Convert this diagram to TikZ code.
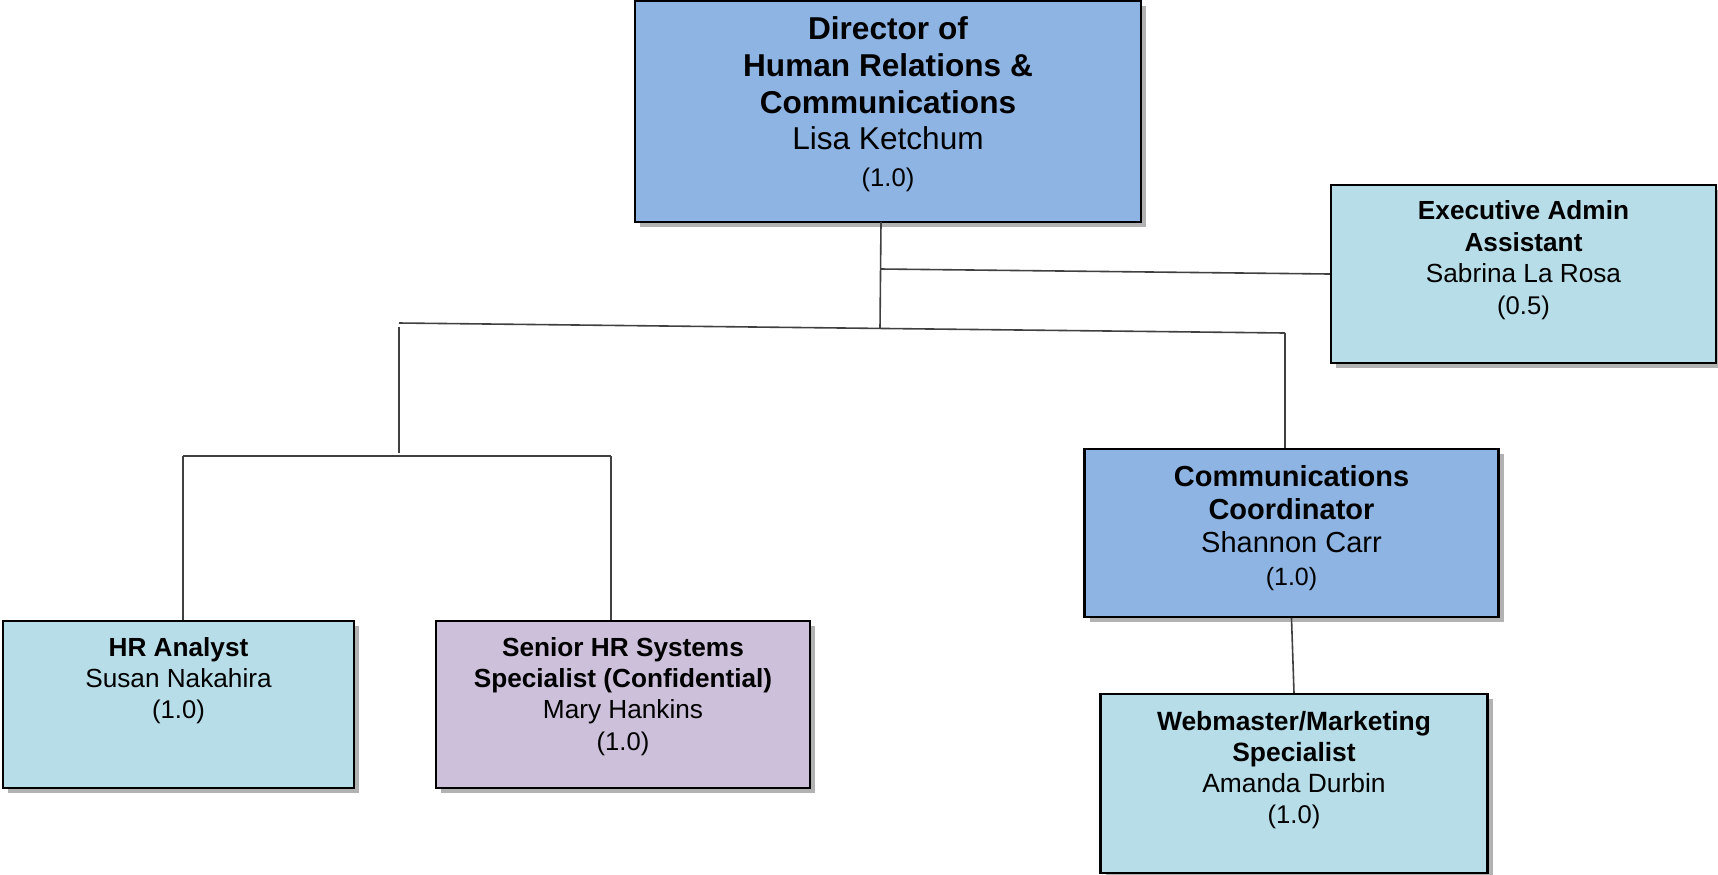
\documentclass[tikz,border=0pt]{standalone}
\usepackage{fontspec}
\setmainfont{Liberation Sans}
\usepackage{tikz}
\usetikzlibrary{calc}
\usetikzlibrary{shadows}
\usetikzlibrary{positioning}
\definecolor{midblue}{RGB}{141,180,226}
\definecolor{paleblue}{RGB}{183,221,232}
\definecolor{lilac}{RGB}{204,192,218}
\tikzset{post/.style={rectangle,draw=black,line width=1.2pt,inner sep=0pt,
    drop shadow={shadow xshift=2.5pt,shadow yshift=-2.5pt,opacity=0.3,fill=black}}}
\tikzset{who/.style={anchor=north,align=center,inner sep=0pt}}
\tikzset{wire/.style={draw=black!75,line width=0.8pt}}

\begin{document}
\begin{tikzpicture}[x=0.5pt,y=-0.5pt]
\useasboundingbox (0,0) rectangle (1718,874);

% boxes
\node[post,fill=midblue,minimum width=253pt,minimum height=110.5pt] (dir) at (888,111.5) {};
\node[post,fill=paleblue,minimum width=192.5pt,minimum height=89pt] (adm) at (1523.5,274) {};
\node[post,fill=paleblue,minimum width=175.5pt,minimum height=83.5pt] (hra) at (178.5,704.5) {};
\node[post,fill=lilac,minimum width=187pt,minimum height=83.5pt] (shr) at (623,704.5) {};
\node[post,fill=midblue,minimum width=207pt,minimum height=84pt] (cc) at (1291.5,533) {};
\node[post,fill=paleblue,minimum width=193.5pt,minimum height=89.5pt] (web) at (1294,783.5) {};

% texts
\node[who,below=8.4pt of dir.north,font=\fontsize{15.8}{18.3}\selectfont] (dirt)
  {\textbf{Director of}\\\textbf{Human Relations \&}\\\textbf{Communications}\\Lisa Ketchum\\{\fontsize{12.8}{18.3}\selectfont (1.0)}};
\node[who,below=8.4pt of adm.north,font=\fontsize{13.1}{15.7}\selectfont] (admt)
  {\textbf{Executive Admin}\\\textbf{Assistant}\\Sabrina La Rosa\\{\fontsize{12.8}{15.7}\selectfont (0.5)}};
\node[who,below=8.4pt of hra.north,font=\fontsize{13.1}{15.5}\selectfont] (hrat)
  {\textbf{HR Analyst}\\Susan Nakahira\\{\fontsize{12.8}{15.5}\selectfont (1.0)}};
\node[who,below=8.4pt of shr.north,font=\fontsize{13.1}{15.7}\selectfont] (shrt)
  {\textbf{Senior HR Systems}\\\textbf{Specialist (Confidential)}\\Mary Hankins\\{\fontsize{12.8}{15.7}\selectfont (1.0)}};
\node[who,below=8.8pt of cc.north,font=\fontsize{14.5}{16.5}\selectfont] (cct)
  {\textbf{Communications}\\\textbf{Coordinator}\\Shannon Carr\\{\fontsize{12.5}{16.5}\selectfont (1.0)}};
\node[who,below=9pt of web.north,font=\fontsize{13.2}{15.5}\selectfont] (webt)
  {\textbf{Webmaster/Marketing}\\\textbf{Specialist}\\Amanda Durbin\\{\fontsize{12.8}{15.5}\selectfont (1.0)}};

% connectors
\coordinate (drop) at (881,222);
\coordinate (tee) at (880,328);
\coordinate (side) at (881,269);
\coordinate (barL) at (399,323);
\coordinate (barR) at (1285,333);
\coordinate (legL) at (399,327);
\coordinate (legB) at (399,453);
\coordinate (lowL) at (183,456);
\coordinate (lowR) at (611,456);

\draw[wire] (drop) -- (tee);
\draw[wire] (side) -- (adm.west);
\draw[wire] (barL) -- (barR);
\draw[wire] (legL) -- (legB);
\draw[wire] (barR) -- (barR |- cc.north);
\draw[wire] (lowL) -- (lowR);
\draw[wire] (lowL) -- (lowL |- hra.north);
\draw[wire] (lowR) -- (lowR |- shr.north);
\draw[wire] (cc.south) -- (web.north);
\end{tikzpicture}
\end{document}
